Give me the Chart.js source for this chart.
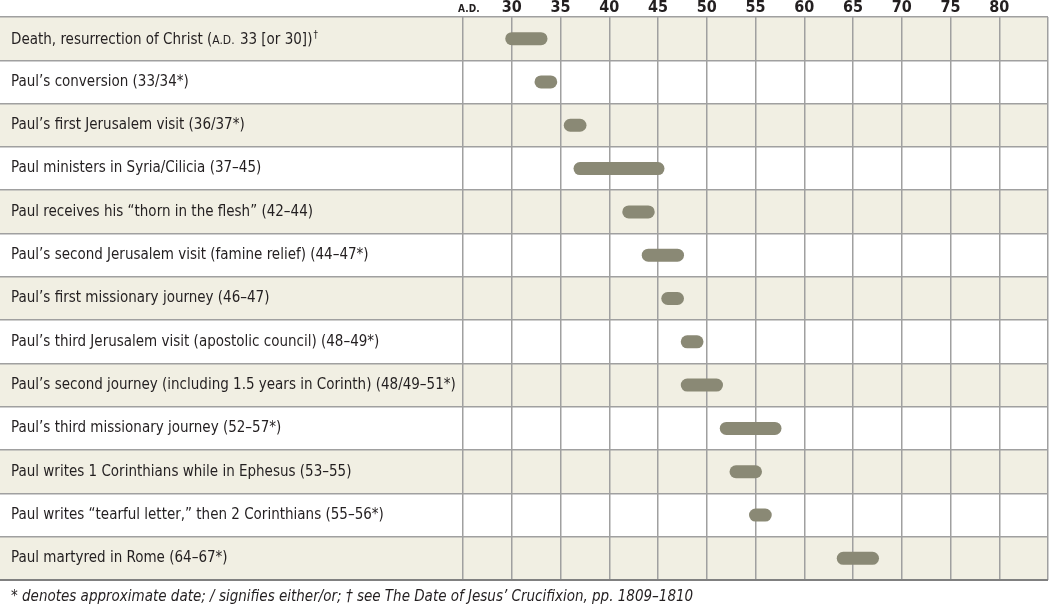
<!DOCTYPE html>
<html>
<head>
<meta charset="utf-8">
<script src="https://cdn.jsdelivr.net/npm/chart.js@4.4.1/dist/chart.umd.min.js"></script>
<style>
  html, body { margin: 0; padding: 0; background: #ffffff; }
  #wrap { position: relative; width: 1050px; height: 610px; }
</style>
</head>
<body>
<div id="wrap"><canvas id="chart"></canvas></div>
<script>
// ---- data ----
const categories = [
  "Death, resurrection of Christ (A.D. 33 [or 30])\u2020",
  "Paul\u2019s conversion (33/34*)",
  "Paul\u2019s first Jerusalem visit (36/37*)",
  "Paul ministers in Syria/Cilicia (37\u201345)",
  "Paul receives his \u201cthorn in the flesh\u201d (42\u201344)",
  "Paul\u2019s second Jerusalem visit (famine relief) (44\u201347*)",
  "Paul\u2019s first missionary journey (46\u201347)",
  "Paul\u2019s third Jerusalem visit (apostolic council) (48\u201349*)",
  "Paul\u2019s second journey (including 1.5 years in Corinth) (48/49\u201351*)",
  "Paul\u2019s third missionary journey (52\u201357*)",
  "Paul writes 1 Corinthians while in Ephesus (53\u201355)",
  "Paul writes \u201ctearful letter,\u201d then 2 Corinthians (55\u201356*)",
  "Paul martyred in Rome (64\u201367*)"
];
// rich-text pieces of the first label (small caps era + superscript dagger)
const firstLabelParts = [
  { t: "Death, resurrection of Christ (", k: "n" },
  { t: "A.D.", k: "sc" },
  { t: " 33 [or 30])", k: "n" },
  { t: "\u2020", k: "sup" }
];
const startYears = [30, 33, 36, 37, 42, 44, 46, 48, 48, 52, 53, 55, 64];
const endYears   = [33, 34, 37, 45, 44, 47, 47, 49, 51, 57, 55, 56, 67];
const tickYears  = [30, 35, 40, 45, 50, 55, 60, 65, 70, 75, 80];
const axisMin = 25;
const axisMax = 85;
const eraLabel = "A.D.";
const eraLabelPos = 25.6;
const footnote = "* denotes approximate date; / signifies either/or; \u2020 see The Date of Jesus\u2019 Crucifixion, pp. 1809\u20131810";

// ---- styles ----
const BAR = "#8a8975";
const BEIGE = "#f1efe3";
const GRID = "#a0a0a0";
const TEXT = "#231f20";
const FONT = "'Liberation Sans Narrow', 'DejaVu Sans Condensed', 'Liberation Sans', sans-serif";
const LABEL_SIZE = 15;

const datasets = categories.map((cat, i) => ({
  label: cat,
  data: [{ x: startYears[i], y: cat }, { x: endYears[i], y: cat }],
  showLine: true,
  borderColor: BAR,
  backgroundColor: BAR,
  borderWidth: 13,
  borderCapStyle: "round",
  pointRadius: 0,
  pointHoverRadius: 0,
  clip: false
}));

const rowBands = {
  id: "rowBands",
  beforeDraw(chart) {
    const { ctx, chartArea, scales } = chart;
    const y = scales.y;
    const n = categories.length;
    const h = (chartArea.bottom - chartArea.top) / n;
    ctx.save();
    for (let i = 0; i < n; i++) {
      if (i % 2 === 0) {
        const c = y.getPixelForValue(i);
        ctx.fillStyle = BEIGE;
        ctx.fillRect(0, c - h / 2, chartArea.right, h);
      }
    }
    ctx.restore();
  },
  afterDraw(chart) {
    // draw the first category label with small caps and a superscript dagger
    const { ctx, scales } = chart;
    const y = scales.y;
    const cy = y.getPixelForTick(0);
    let x = y.left;
    ctx.save();
    ctx.fillStyle = TEXT;
    ctx.textBaseline = "alphabetic";
    ctx.textAlign = "left";
    const base = cy + LABEL_SIZE * 0.36;
    firstLabelParts.forEach(p => {
      let size = LABEL_SIZE, dy = 0;
      if (p.k === "sc") size = LABEL_SIZE * 0.8;
      if (p.k === "sup") { size = LABEL_SIZE * 0.66; dy = -LABEL_SIZE * 0.38; x += 1; }
      ctx.font = size + "px " + FONT;
      ctx.fillText(p.t, x, base + dy);
      x += ctx.measureText(p.t).width + (p.k === "sc" ? 1 : 0);
    });
    ctx.restore();
  }
};

new Chart(document.getElementById("chart"), {
  type: "scatter",
  data: { datasets },
  options: {
    responsive: true,
    maintainAspectRatio: false,
    animation: false,
    events: [],
    layout: { padding: { left: 11, right: 2, top: 0, bottom: 0 } },
    plugins: {
      legend: { display: false },
      tooltip: { enabled: false },
      title: {
        display: true,
        position: "bottom",
        align: "start",
        text: footnote,
        color: TEXT,
        font: { family: FONT, size: 15, style: "italic", weight: "normal", lineHeight: 1.2 },
        padding: { top: 8, bottom: 4 }
      }
    },
    scales: {
      x: {
        type: "linear",
        position: "top",
        min: axisMin,
        max: axisMax,
        afterBuildTicks(scale) {
          const vals = [axisMin, eraLabelPos, ...tickYears, axisMax];
          scale.ticks = vals.map(v => ({ value: v }));
        },
        afterFit(scale) { scale.height = 17; },
        border: { display: false },
        grid: {
          drawTicks: false,
          color: (ctx) => (ctx.tick && ctx.tick.value === eraLabelPos) ? "rgba(0,0,0,0)" : GRID,
          lineWidth: 1.5
        },
        ticks: {
          autoSkip: false,
          maxRotation: 0,
          padding: 1,
          color: TEXT,
          callback: (v) => v === eraLabelPos ? eraLabel : (tickYears.includes(v) ? String(v) : ""),
          font: (ctx) => (ctx.tick && ctx.tick.value === eraLabelPos)
            ? { family: FONT, size: 10, weight: "bold", lineHeight: 1.4 }
            : { family: FONT, size: 16, weight: "bold", lineHeight: 1.0 }
        }
      },
      y: {
        type: "category",
        labels: categories,
        offset: true,
        afterFit(scale) { scale.width = 452; },
        border: { display: false },
        grid: {
          offset: true,
          drawTicks: true,
          tickLength: 463,
          color: (ctx) => ctx.type === "tick" ? GRID : "#808080",
          lineWidth: (ctx) => ctx.type === "tick" ? 1.5 : 2
        },
        ticks: {
          crossAlign: "far",
          padding: 0,
          autoSkip: false,
          color: (ctx) => ctx.index === 0 ? "rgba(0,0,0,0)" : TEXT,
          font: { family: FONT, size: LABEL_SIZE }
        }
      }
    }
  },
  plugins: [rowBands]
});
</script>
</body>
</html>
